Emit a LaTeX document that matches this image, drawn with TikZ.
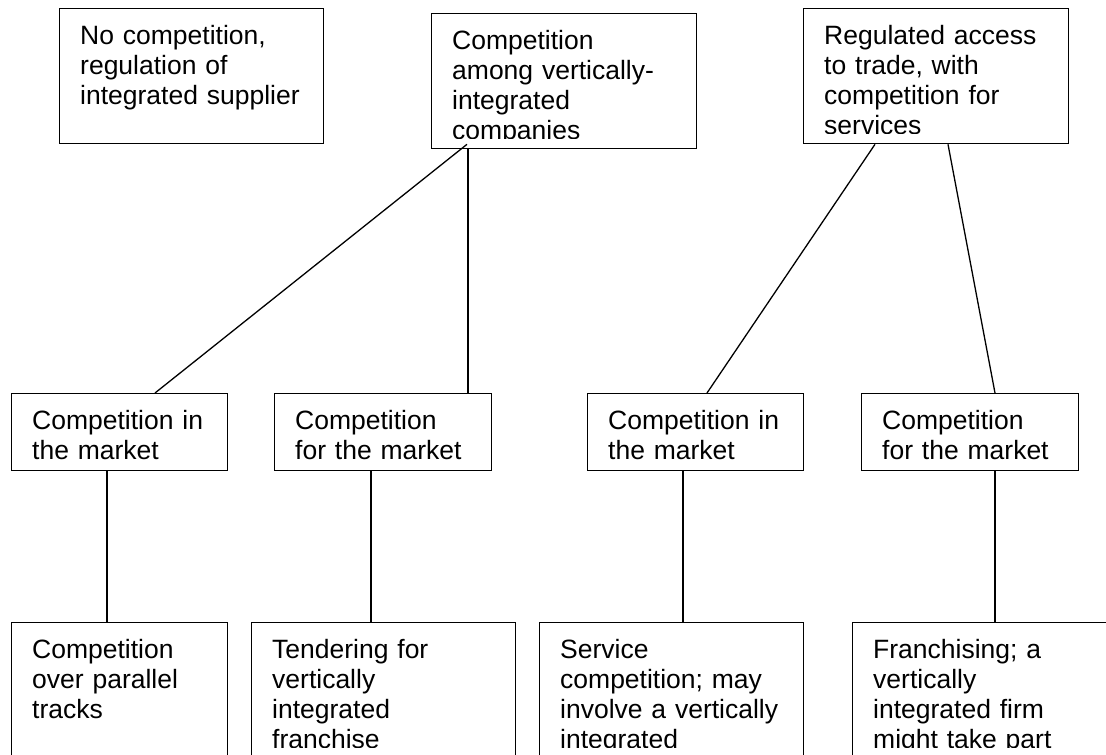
\documentclass[tikz,border=0pt]{standalone}
\usepackage{fontspec}
\setmainfont{Liberation Sans}

\tikzset{
    box/.style={draw, line width=1.3pt, anchor=north west, inner sep=0pt},
    boxtext/.style={anchor=base west, inner sep=0pt, text width=300pt, align=left,
                    font=\fontsize{26.5}{30}\selectfont}
}

% name, x, y, width, height, text (cut off near the bottom like the original)
\newcommand{\drawbox}[6]{%
    \node[box, minimum width=#4pt, minimum height=#5pt] (#1) at (#2,#3) {};
    \begin{scope}
        \clip (#1.north west) rectangle ([yshift=11pt]#1.south east);
        \node[boxtext] (#1txt) at ([shift={(21pt,-36pt)}]#1.north west) {#6};
    \end{scope}}

\begin{document}
\begin{tikzpicture}[x=1pt,y=-1pt]
                \useasboundingbox (0,0) rectangle (1106,755);
                \clip (0,0) rectangle (1106,755);

                % top row
                \drawbox{regbox}{59}{8}{264}{135}{No competition,\\regulation of\\integrated supplier}
                \drawbox{vibox}{431}{13}{265}{135}{Competition\\among vertically-\\integrated\\companies}
                \drawbox{accbox}{803}{8}{265}{135}{Regulated access\\to trade, with\\competition for\\services}

                % middle row
                \drawbox{viin}{11}{393}{216}{77}{Competition in\\the market}
                \drawbox{vifor}{274}{393}{217}{77}{Competition\\for the market}
                \drawbox{accin}{587}{393}{216}{77}{Competition in\\the market}
                \drawbox{accfor}{861}{393}{217}{77}{Competition\\for the market}

                % bottom row
                \drawbox{tracks}{11}{622}{216}{135}{Competition\\over parallel\\tracks}
                \drawbox{tender}{251}{622}{264}{135}{Tendering for\\vertically\\integrated\\franchise}
                \drawbox{service}{539}{622}{264}{135}{Service\\competition; may\\involve a vertically\\integrated}
                \drawbox{franchise}{852}{622}{264}{135}{Franchising; a\\vertically\\integrated firm\\might take part}

                \begin{scope}[every edge/.style={draw, line width=1.3pt}]
                    \path [-] ([xshift=36pt,yshift=5pt]vibox.south west) edge ([xshift=144pt]viin.north west);
                    \path [-] ([xshift=37pt]vibox.south west) edge ([xshift=194pt]vifor.north west);
                    \path [-] ([xshift=72pt]accbox.south west) edge ([xshift=120pt]accin.north west);
                    \path [-] ([xshift=145pt]accbox.south west) edge ([xshift=134pt]accfor.north west);
                    \path [-] ([xshift=96pt]viin.south west) edge ([xshift=96pt]tracks.north west);
                    \path [-] ([xshift=97pt]vifor.south west) edge ([xshift=120pt]tender.north west);
                    \path [-] ([xshift=96pt]accin.south west) edge ([xshift=144pt]service.north west);
                    \path [-] ([xshift=134pt]accfor.south west) edge ([xshift=143pt]franchise.north west);
                \end{scope}
            \end{tikzpicture}
\end{document}
